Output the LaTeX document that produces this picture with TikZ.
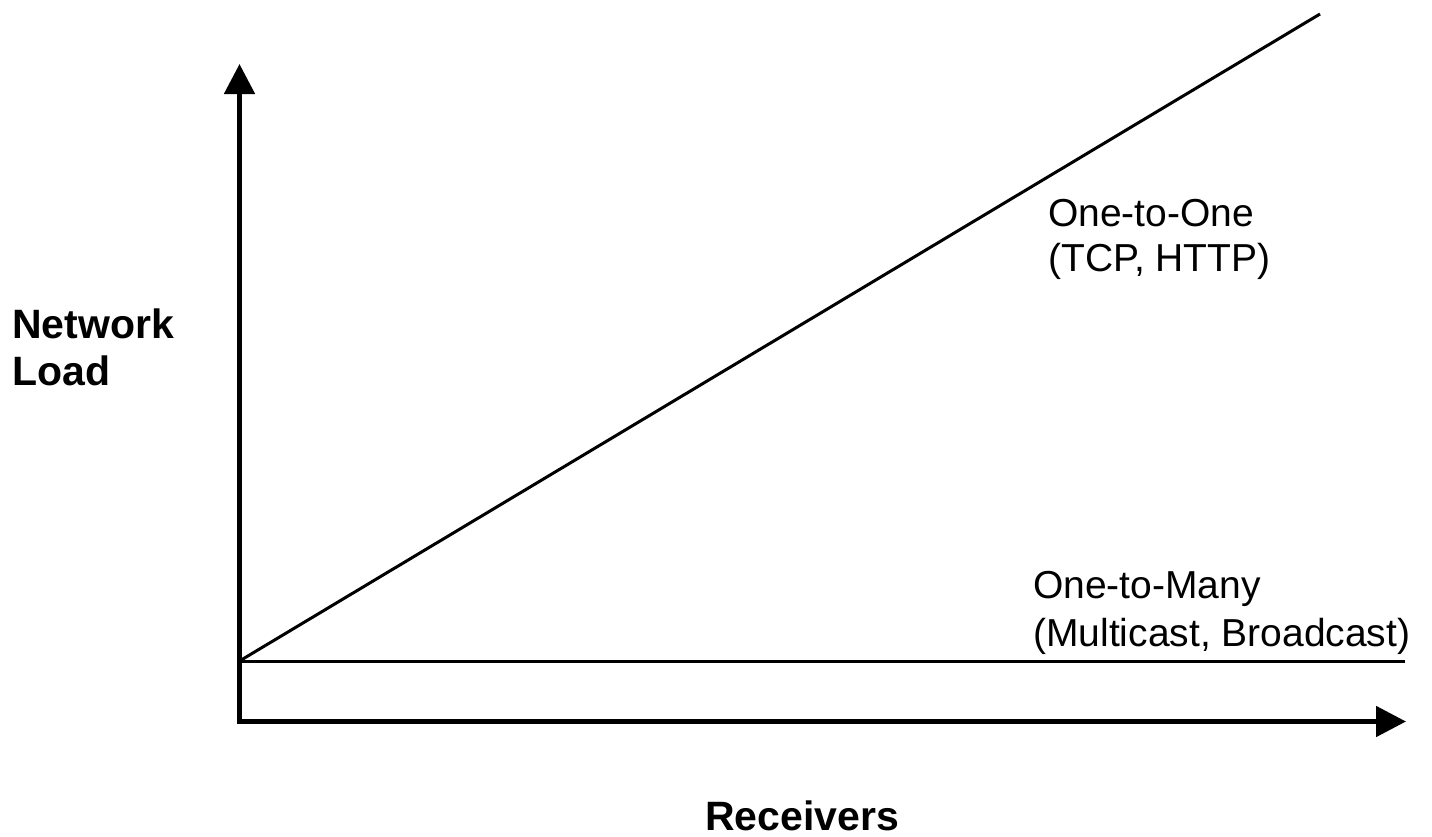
\documentclass[tikz,border=0pt]{standalone}
\usepackage{fontspec}
\setmainfont{Liberation Sans}
\usetikzlibrary{arrows.meta}
\begin{document}
\begin{tikzpicture}[x=1pt,y=-1pt,
  axisline/.style={line width=5pt,-{Triangle[length=30pt,width=30pt]}},
  curveline/.style={line width=3pt},
  axislabel/.style={inner sep=0pt,font=\fontsize{41}{47}\selectfont\bfseries},
  serieslabel/.style={inner sep=0pt,anchor=base west,font=\fontsize{39}{45}\selectfont}]
  % canvas
  \useasboundingbox[fill=white] (0,0) rectangle (1432,836);

  % reference points
  \coordinate (origin) at (239.5,661);
  \coordinate (ybot) at (239.5,724);
  \coordinate (ytop) at (239.5,64);
  \coordinate (xleft) at (237,721.5);
  \coordinate (xright) at (1406,721.5);
  \coordinate (oneend) at (1320,14);
  \coordinate (manyend) at (1405,661);

  % axes
  \draw[axisline] (ybot) -- (ytop);
  \draw[axisline] (xleft) -- (xright);

  % load curves
  \draw[curveline] (origin) -- (oneend);
  \draw[curveline] (origin) -- (manyend);

  % axis labels
  \node[axislabel,anchor=base west] (net1) at (12,338) {Network};
  \node[axislabel,anchor=base west] (net2) at (12,385) {Load};
  \node[axislabel,anchor=base west] (recv) at (705,830) {Receivers};

  % curve labels
  \node[serieslabel] (oo1) at (1048,226) {One-to-One};
  \node[serieslabel] (oo2) at (1048,271) {(TCP, HTTP)};
  \node[serieslabel] (om1) at (1033,598) {One-to-Many};
  \node[serieslabel] (om2) at (1033,646) {(Multicast, Broadcast)};
\end{tikzpicture}
\end{document}
